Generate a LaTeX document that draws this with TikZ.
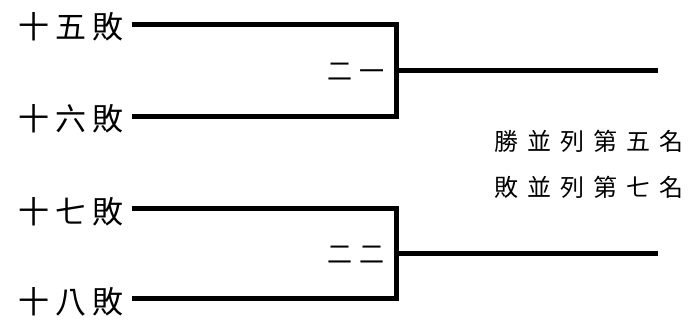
\documentclass[tikz,border=0pt]{standalone}
\usepackage{fontspec}
\newfontfamily\teamfont[LetterSpace=20]{Noto Sans CJK TC}
\newfontfamily\gamefont[LetterSpace=28]{Noto Sans CJK TC}
\newfontfamily\notefont[LetterSpace=37]{Noto Sans CJK TC}
\usetikzlibrary{positioning}

\begin{document}
\begin{tikzpicture}[x=1pt, y=-1pt, node distance=8pt,
  team/.style={font=\teamfont\fontsize{31}{31}\selectfont, inner sep=0pt},
  game/.style={font=\gamefont\fontsize{25}{25}\selectfont, inner sep=0pt},
  note/.style={font=\notefont\fontsize{24}{46}\selectfont, inner sep=0pt, align=left},
  br/.style={line width=5pt}]
\useasboundingbox (0,0) rectangle (690,322);
% line starts, junctions and winner ends
\coordinate (a15) at (132,24);
\coordinate (a16) at (132,116);
\coordinate (a17) at (132,208);
\coordinate (a18) at (132,298);
\coordinate (j21) at (396,70);
\coordinate (j22) at (396,253);
\coordinate (w21) at (658,70);
\coordinate (w22) at (658,253);
% teams
\node[team, left=of a15, yshift=-3pt] (t15) {十五敗};
\node[team, left=of a16, yshift=-3pt] (t16) {十六敗};
\node[team, left=of a17, yshift=-4pt] (t17) {十七敗};
\node[team, left=of a18, yshift=-4pt] (t18) {十八敗};
% games
\node[game, left=11pt of j21, yshift=-2pt] (g21) {二一};
\node[game, left=11pt of j22, yshift=-2pt] (g22) {二二};
\node[note] (res) at (589,164) {勝並列第五名\\敗並列第七名};
% brackets
\draw[br] (a15) -| (j21) |- (a16);
\draw[br] (a17) -| (j22) |- (a18);
\draw[br] (j21) -- (w21);
\draw[br] (j22) -- (w22);
\end{tikzpicture}
\end{document}
